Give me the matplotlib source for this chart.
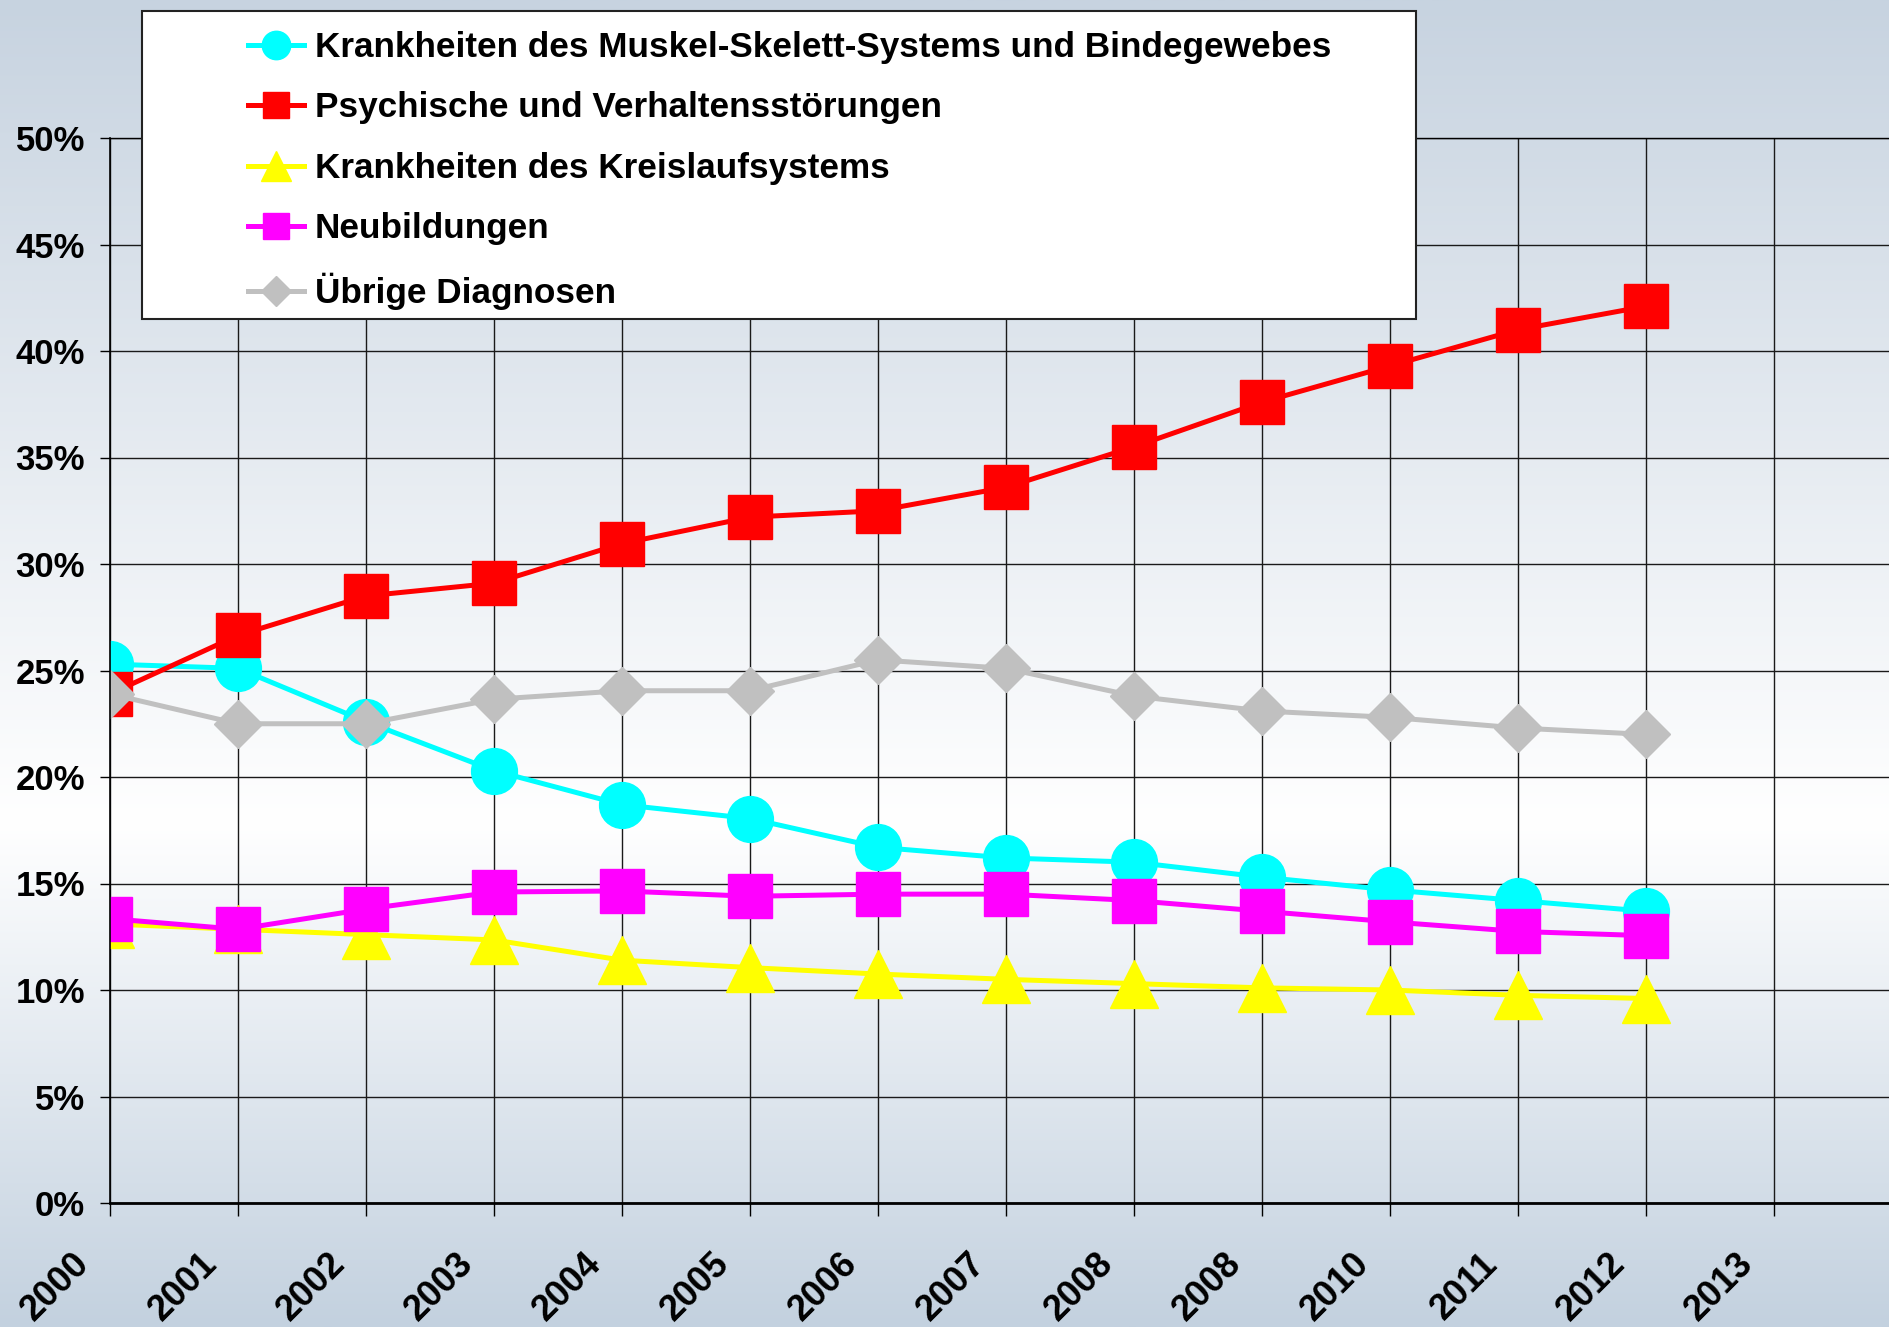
import numpy as np
import matplotlib
matplotlib.use('Agg')
import matplotlib.pyplot as plt
from matplotlib.patches import Rectangle
from matplotlib.transforms import ScaledTranslation

plt.rcParams.update({'font.family': 'Liberation Sans', 'font.weight': 'bold'})

years = ['2000', '2001', '2002', '2003', '2004', '2005', '2006',
         '2007', '2008', '2008', '2010', '2011', '2012', '2013']

muskel = [25.3, 25.1, 22.6, 20.3, 18.7, 18.05, 16.7, 16.2, 16.0, 15.3, 14.7, 14.2, 13.7]
psyche = [23.9, 26.65, 28.5, 29.1, 30.96, 32.2, 32.5, 33.6, 35.5, 37.6, 39.3, 41.0, 42.1]
kreislauf = [13.1, 12.85, 12.6, 12.35, 11.4, 11.05, 10.75, 10.5, 10.3, 10.1, 10.0, 9.75, 9.6]
neubildung = [13.35, 12.85, 13.8, 14.6, 14.65, 14.4, 14.5, 14.5, 14.2, 13.7, 13.2, 12.75, 12.55]
uebrige = [23.9, 22.5, 22.5, 23.65, 24.05, 24.05, 25.5, 25.1, 23.8, 23.1, 22.8, 22.3, 22.0]

labels = ['Krankheiten des Muskel-Skelett-Systems und Bindegewebes',
          'Psychische und Verhaltensstörungen',
          'Krankheiten des Kreislaufsystems',
          'Neubildungen',
          'Übrige Diagnosen']

fig = plt.figure(figsize=(18.9, 13.27), dpi=100)

# gradient backdrop
bg = fig.add_axes([0, 0, 1, 1], zorder=-10)
stops = np.array([0.0, 0.62, 1.0])
top = np.array([199, 211, 224]) / 255.
mid = np.array([1.0, 1.0, 1.0])
bot = np.array([195, 209, 223]) / 255.
t = np.linspace(0, 1, 600)
grad = np.zeros((600, 1, 3))
for c in range(3):
    grad[:, 0, c] = np.interp(t, stops, [top[c], mid[c], bot[c]])
bg.imshow(grad, aspect='auto', extent=[0, 1, 0, 1])
bg.set_axis_off()

ax = fig.add_axes([110/1890, 1 - 1203/1327, 1780/1890, 1065/1327])
ax.set_facecolor('none')

x = np.arange(len(muskel))
lw = 3.6
ax.plot(x, muskel, color='#00ffff', lw=lw, marker='o', ms=33, label=labels[0])
ax.plot(x, psyche, color='#ff0000', lw=lw, marker='s', ms=31, label=labels[1])
ax.plot(x, kreislauf, color='#ffff00', lw=lw, marker='^', ms=34, label=labels[2])
ax.plot(x, neubildung, color='#ff00ff', lw=lw, marker='s', ms=31, label=labels[3])
ax.plot(x, uebrige, color='#c0c0c0', lw=lw, marker='D', ms=24, label=labels[4])

ax.set_xlim(0, 1780/128.0)
ax.set_ylim(0, 50)
ax.set_xticks(range(len(years)))
ax.set_xticklabels(years, rotation=45, ha='right', va='center', rotation_mode='anchor')
ax.set_yticks(range(0, 51, 5))
ax.set_yticklabels(['{}%'.format(v) for v in range(0, 51, 5)])
ax.grid(True, color='#1a1a1a', lw=1.0)
ax.set_axisbelow(True)
ax.tick_params(axis='y', labelsize=25, length=7, width=1, pad=11)
ax.tick_params(axis='x', labelsize=26, length=9, width=1, pad=31)
for lab in ax.get_xticklabels():
    lab.set_transform(lab.get_transform() + ScaledTranslation(-0.26, 0, fig.dpi_scale_trans))
ax.spines['right'].set_visible(False)
ax.spines['top'].set_linewidth(1.0)
ax.spines['left'].set_linewidth(1.2)
ax.spines['bottom'].set_linewidth(2.0)

# legend box
fig.patches.append(Rectangle((142/1890, 1 - 319/1327), (1416-142)/1890, 308/1327,
                             transform=fig.transFigure, facecolor='white',
                             edgecolor='#222222', lw=1.5, zorder=5))
leg = fig.legend(loc='upper left', bbox_to_anchor=(248/1890, 1 - 31/1327),
                 frameon=False, fontsize=25.3, markerscale=0.62, numpoints=1,
                 handlelength=1.6, handletextpad=0.3, labelspacing=0.78,
                 borderpad=0, borderaxespad=0)
leg.set_zorder(6)

fig.savefig('out.png', dpi=100)
